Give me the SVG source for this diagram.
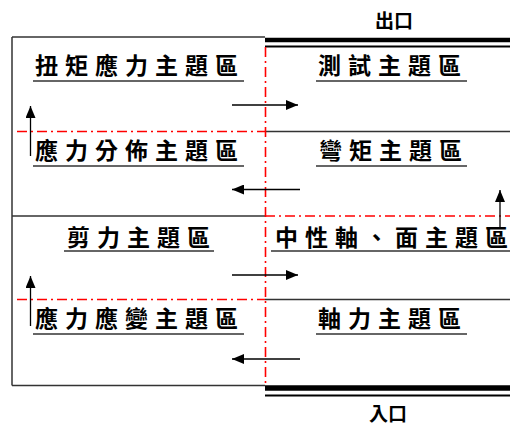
<svg xmlns="http://www.w3.org/2000/svg" width="510" height="425" viewBox="0 0 510 425">
<defs>
<style>
.t{font-family:"Noto Sans CJK TC","Noto Sans CJK SC",sans-serif;font-weight:700;font-size:23px;letter-spacing:7px;fill:#000}
.g{font-family:"Noto Sans CJK TC","Noto Sans CJK SC",sans-serif;font-weight:700;font-size:19px;fill:#000}
.ln{stroke:#333;stroke-width:1.5;fill:none}
.ul{stroke:#333;stroke-width:1.6;fill:none}
.rd{stroke:#ff0000;stroke-width:1.6;stroke-dasharray:10,4,2,4;fill:none}
.ar{stroke:#000;stroke-width:1.3;fill:none;marker-end:url(#ah)}
</style>
<marker id="ah" viewBox="0 0 12 10" refX="12" refY="5" markerWidth="12" markerHeight="10" markerUnits="userSpaceOnUse" orient="auto">
<path d="M0,0 L12,5 L0,10 Z" fill="#000"/>
</marker>
</defs>
<rect width="510" height="425" fill="#fff"/>
<g id="frame">
<line class="ln" x1="12" y1="37" x2="265" y2="37"/>
<line class="ln" x1="12" y1="37" x2="12" y2="385.5"/>
<line class="ln" x1="12" y1="385.5" x2="265" y2="385.5"/>
<line class="ln" x1="12" y1="216" x2="265" y2="216"/>
<line class="ln" x1="265" y1="131.5" x2="510" y2="131.5"/>
<line class="ln" x1="265" y1="299.5" x2="510" y2="299.5"/>
<line stroke="#000" stroke-width="4.5" x1="265" y1="40" x2="510" y2="40"/>
<line stroke="#000" stroke-width="2" x1="265" y1="46.5" x2="510" y2="46.5"/>
<line stroke="#000" stroke-width="5.5" x1="265" y1="388" x2="510" y2="388"/>
<line stroke="#000" stroke-width="2" x1="265" y1="395.5" x2="510" y2="395.5"/>
<line class="rd" x1="265.5" y1="47" x2="265.5" y2="385"/>
<line class="rd" x1="17" y1="131.5" x2="265" y2="131.5"/>
<line class="rd" x1="265" y1="216" x2="510" y2="216"/>
<line class="rd" x1="17" y1="299.5" x2="265" y2="299.5"/>
</g>
<g id="exit"><text class="g" x="394" y="27.5" text-anchor="middle">出口</text></g>
<g id="entrance"><text class="g" x="388" y="420.5" text-anchor="middle">入口</text></g>
<g id="n1"><text class="t" x="35" y="74">扭矩應力主題區</text><line class="ul" x1="33" y1="81" x2="244" y2="81"/></g>
<g id="n2"><text class="t" x="318" y="74">測試主題區</text><line class="ul" x1="316" y1="81" x2="467" y2="81"/></g>
<g id="n3"><text class="t" x="35" y="159">應力分佈主題區</text><line class="ul" x1="33" y1="166" x2="244" y2="166"/></g>
<g id="n4"><text class="t" x="319" y="159">彎矩主題區</text><line class="ul" x1="316" y1="166" x2="467" y2="166"/></g>
<g id="n5"><text class="t" x="67" y="246">剪力主題區</text><line class="ul" x1="64" y1="251" x2="214" y2="251"/></g>
<g id="n6"><text class="t" style="letter-spacing:0" x="275 305 335 365 395 425 455 485" y="246">中性軸、面主題區</text><line class="ul" x1="271" y1="251" x2="510" y2="251"/></g>
<g id="n7"><text class="t" x="35" y="327">應力應變主題區</text><line class="ul" x1="33" y1="334" x2="244" y2="334"/></g>
<g id="n8"><text class="t" x="318" y="327">軸力主題區</text><line class="ul" x1="316" y1="334" x2="467" y2="334"/></g>
<g id="connectors">
<line class="ar" x1="232" y1="105" x2="298" y2="105"/>
<line class="ar" x1="300" y1="189.5" x2="232" y2="189.5"/>
<line class="ar" x1="30.5" y1="156" x2="30.5" y2="106"/>
<line class="ar" x1="500" y1="228" x2="500" y2="190"/>
<line class="ar" x1="232" y1="275" x2="298" y2="275"/>
<line class="ar" x1="300" y1="359" x2="232" y2="359"/>
<line class="ar" x1="30.5" y1="326" x2="30.5" y2="276"/>
</g>
</svg>
